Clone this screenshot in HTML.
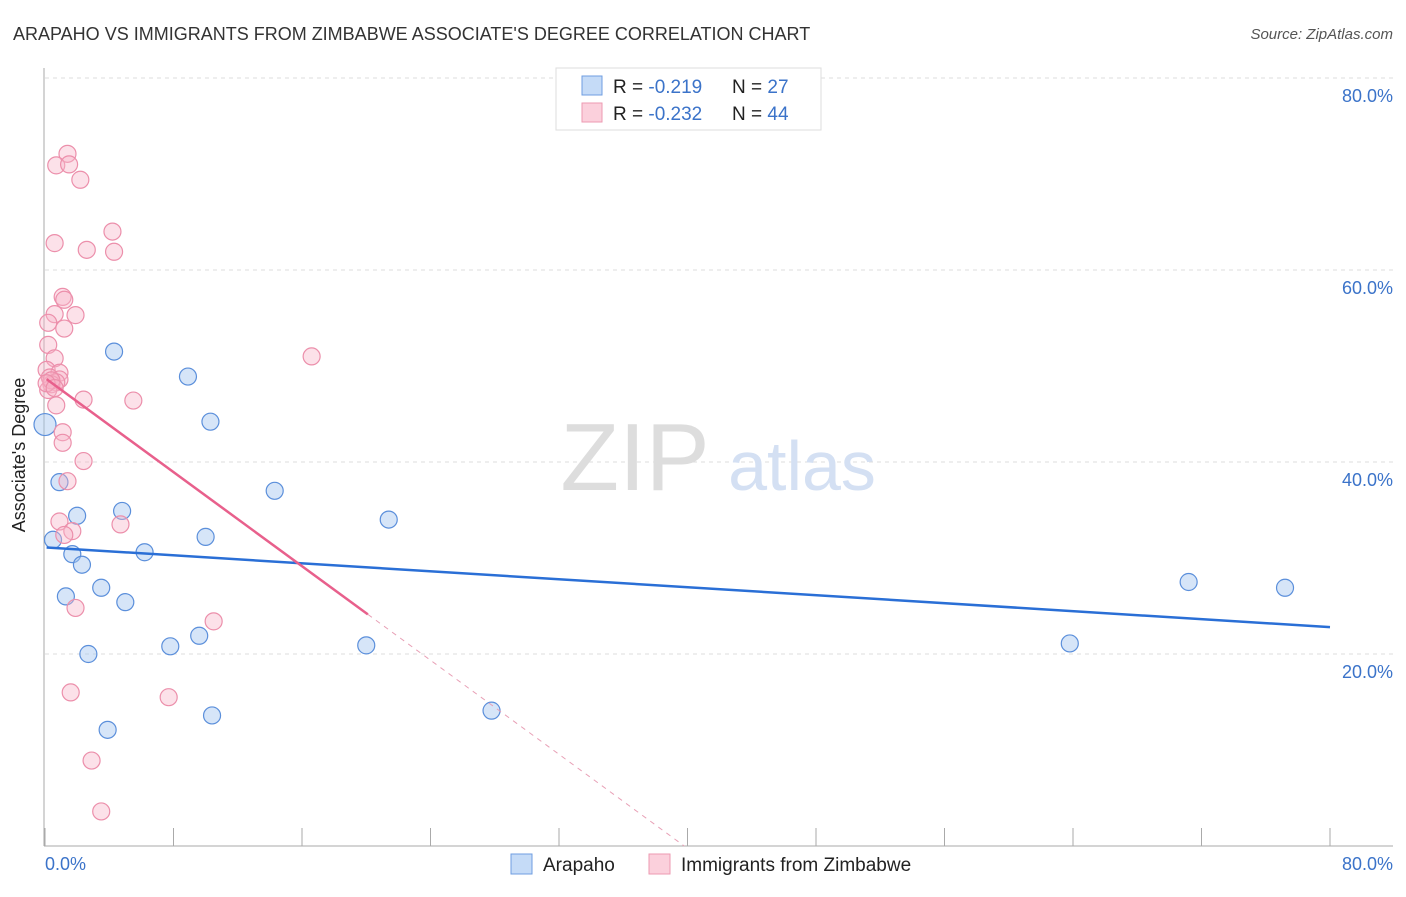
<!DOCTYPE html>
<html><head><meta charset="utf-8"><style>
body{margin:0;background:#fff;font-family:"Liberation Sans",sans-serif}
svg text{font-family:"Liberation Sans",sans-serif}
</style></head><body>
<svg width="1406" height="892" viewBox="0 0 1406 892">
<text x="13" y="40" font-size="18" fill="#333">ARAPAHO VS IMMIGRANTS FROM ZIMBABWE ASSOCIATE'S DEGREE CORRELATION CHART</text>
<text x="1393" y="39" font-size="15" fill="#555" font-style="italic" text-anchor="end">Source: ZipAtlas.com</text>
<g id="grid"></g>
<g><text x="635" y="490" font-size="96" fill="#ddd" font-family="Liberation Serif" text-anchor="middle">ZIP</text><text x="802" y="490" font-size="70" fill="#d4e0f3" text-anchor="middle">atlas</text></g>
<line x1="44" y1="68" x2="44" y2="846" stroke="#aaa"/>
<line x1="44" y1="846" x2="1393" y2="846" stroke="#aaa"/>
<text x="25" y="455" font-size="18" fill="#222" text-anchor="middle" transform="rotate(-90 25 455)">Associate's Degree</text>
<text x="45" y="870" font-size="18" fill="#3b73c9">0.0%</text>
<text x="1393" y="870" font-size="18" fill="#3b73c9" text-anchor="end">80.0%</text>
<g id="marks"></g>
<g>
<rect x="556" y="68" width="265" height="62" fill="#fff" stroke="#ddd"/>
<rect x="582" y="76" width="20" height="19" fill="#c5dbf7" stroke="#6f9ee0"/>
<rect x="582" y="103" width="20" height="19" fill="#fbd0dc" stroke="#ec9ab2"/>
<text x="613" y="93" font-size="19" fill="#222">R = <tspan fill="#3b73c9">-0.219</tspan><tspan x="732">N = </tspan><tspan fill="#3b73c9">27</tspan></text>
<text x="613" y="120" font-size="19" fill="#222">R = <tspan fill="#3b73c9">-0.232</tspan><tspan x="732">N = </tspan><tspan fill="#3b73c9">44</tspan></text>
</g>
<g>
<rect x="511" y="854" width="21" height="20" fill="#c5dbf7" stroke="#6f9ee0"/>
<text x="543" y="871" font-size="19" fill="#222">Arapaho</text>
<rect x="649" y="854" width="21" height="20" fill="#fbd0dc" stroke="#ec9ab2"/>
<text x="681" y="871" font-size="19" fill="#222">Immigrants from Zimbabwe</text>
</g>
</svg>
<script>
const yTicks=[20,40,60,80];
const yTickLabels=["20.0%","40.0%","60.0%","80.0%"];
const xTicks=[0,8,16,24,32,40,48,56,64,72,80];
const blueX=[4.3,8.9,10.3,0.0,0.9,14.3,4.8,2.0,21.4,10.0,0.5,1.7,6.2,2.3,3.5,1.3,5.0,71.2,77.2,2.7,7.8,9.6,20.0,63.8,27.8,10.4,3.9];
const blueY=[51.5,48.9,44.2,43.9,37.9,37.0,34.9,34.4,34.0,32.2,31.9,30.4,30.6,29.3,26.9,26.0,25.4,27.5,26.9,20.0,20.8,21.9,20.9,21.1,14.1,13.6,12.1];
const pinkX=[1.4,0.7,1.5,2.2,0.6,4.2,2.6,4.3,1.1,1.2,1.9,0.6,0.2,1.2,0.2,0.6,16.6,0.1,0.9,0.3,0.9,0.7,0.4,0.2,2.4,5.5,0.7,1.1,1.1,2.4,1.4,0.9,4.7,1.7,1.2,1.9,10.5,1.6,7.7,2.9,3.5,0.4,0.1,0.6];
const pinkY=[72.1,70.9,71.0,69.4,62.8,64.0,62.1,61.9,57.2,56.9,55.3,55.4,54.5,53.9,52.2,50.8,51.0,49.6,49.3,48.8,48.6,48.3,48.1,47.5,46.5,46.4,45.9,43.1,42.0,40.1,38.0,33.8,33.5,32.8,32.4,24.8,23.4,16.0,15.5,8.9,3.6,48.5,48.2,47.7];
const blueTrend=[31.1,22.8];
const pinkTrend=[48.75,-1.225];
const pinkSolidEnd=20.1;
const NS="http://www.w3.org/2000/svg";
const xs=v=>45+v/80*1285;
const ys=v=>846-v*9.6;
const grid=document.getElementById('grid'),marks=document.getElementById('marks');
function mk(tag,a,p){const e=document.createElementNS(NS,tag);for(const k in a)e.setAttribute(k,a[k]);p.appendChild(e);return e;}
yTicks.forEach((t,i)=>{
 const l=mk('line',{x1:45,x2:1393,y1:ys(t),y2:ys(t),stroke:'#ddd','stroke-dasharray':'4,4'},grid);
 
 
 const tx=mk('text',{x:1393,y:ys(t)+24,'font-size':18,fill:'#3b73c9','text-anchor':'end'},grid);
 tx.textContent=yTickLabels[i];
 
 
});
xTicks.forEach(t=>{
 const l=mk('line',{x1:xs(t),x2:xs(t),y1:828,y2:846,stroke:'#aaa'},grid);
 
 
});
blueX.forEach((v,i)=>{
 const c=mk('circle',{cx:xs(v),cy:ys(blueY[i]),r:v===0?11:8.5,fill:'rgba(165,198,240,0.45)',stroke:'#5b8fdb','stroke-width':1.2},marks);
 
 
});
pinkX.forEach((v,i)=>{
 const c=mk('circle',{cx:xs(v),cy:ys(pinkY[i]),r:8.5,fill:'rgba(248,180,200,0.4)',stroke:'#ec8fab','stroke-width':1.2},marks);
 
 
});
const bt=mk('line',{x1:xs(0.1),y1:ys(blueTrend[0]),x2:xs(80),y2:ys(blueTrend[1]),stroke:'#2a6fd6','stroke-width':2.5},marks);


const pf=x=>pinkTrend[0]+pinkTrend[1]*x;
const ps=mk('line',{x1:xs(0.1),y1:ys(pf(0.1)),x2:xs(pinkSolidEnd),y2:ys(pf(pinkSolidEnd)),stroke:'#e8608c','stroke-width':2.5},marks);


const xEnd=-pinkTrend[0]/pinkTrend[1];
const pd=mk('line',{x1:xs(pinkSolidEnd),y1:ys(pf(pinkSolidEnd)),x2:xs(xEnd),y2:ys(0),stroke:'#e8a0b6','stroke-width':1,'stroke-dasharray':'5,5'},marks);


</script>
</body></html>
